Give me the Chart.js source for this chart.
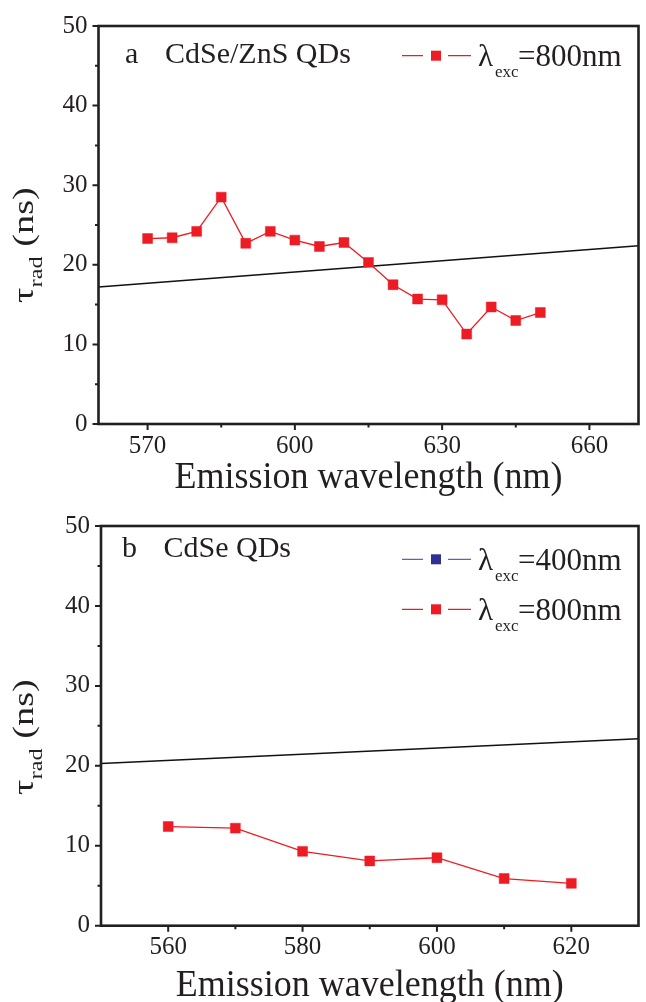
<!DOCTYPE html>
<html>
<head>
<meta charset="utf-8">
<script src="https://cdn.jsdelivr.net/npm/chart.js@4.4.1/dist/chart.umd.min.js"></script>
<style>
  body { margin: 0; background: #fff; width: 646px; height: 1002px; overflow: hidden; }
  .panel { position: absolute; left: 0; width: 646px; }
  #boxA { top: 0; height: 500px; }
  #boxB { top: 500px; height: 502px; }
</style>
</head>
<body>
<div class="panel" id="boxA"><canvas id="chartA"></canvas></div>
<div class="panel" id="boxB"><canvas id="chartB"></canvas></div>
<script>
// ---- panel a : CdSe/ZnS QDs, 800 nm excitation
const wlA = [570, 575, 580, 585, 590, 595, 600, 605, 610, 615, 620, 625, 630, 635, 640, 645, 650];
const tauA800 = [23.3, 23.4, 24.2, 28.5, 22.7, 24.2, 23.1, 22.3, 22.8, 20.3, 17.5, 15.7, 15.6, 11.3, 14.7, 13.0, 14.0];
const refWlA = [560, 670];
const refTauA = [17.2, 22.4];
const xTicksA = [570, 600, 630, 660];
const xMinorA = [585, 615, 645];

// ---- panel b : CdSe QDs
const wlB = [560, 570, 580, 590, 600, 610, 620];
const tauB800 = [12.4, 12.2, 9.3, 8.1, 8.5, 5.9, 5.3];
const tauB400 = [];   // only in the legend, no points shown
const refWlB = [550, 630];
const refTauB = [20.3, 23.4];
const xTicksB = [560, 580, 600, 620];
const xMinorB = [570, 590, 610];

const yTicks = [0, 10, 20, 30, 40, 50];
const yMinor = [5, 15, 25, 35, 45];

const RED = '#ED1C24';
const BLUE = '#2E3192';
const BLUE_LINE = '#5B63B5';
const INK = '#231F20';
const FONT = '"Liberation Serif", "Times New Roman", serif';

function pts(xs, ys) {
  return xs.map((x, i) => ({ x: x, y: ys[i] }));
}

function txt(ctx, s, x, y, size, align, sx, sy) {
  ctx.save();
  ctx.translate(x, y);
  ctx.scale(sx || 1, sy || 1);
  ctx.font = size + 'px ' + FONT;
  ctx.textAlign = align || 'left';
  ctx.textBaseline = 'alphabetic';
  ctx.fillStyle = INK;
  ctx.fillText(s, 0, 0);
  ctx.restore();
}

function legendRow(ctx, y, fill, line, label) {
  ctx.save();
  ctx.strokeStyle = line;
  ctx.lineWidth = 1.3;
  ctx.beginPath();
  ctx.moveTo(402, y); ctx.lineTo(423, y);
  ctx.moveTo(448, y); ctx.lineTo(471, y);
  ctx.stroke();
  ctx.fillStyle = fill;
  ctx.fillRect(431, y - 5, 10, 10);
  ctx.restore();
  txt(ctx, 'λ', 478, y + 10.5, 31);
  txt(ctx, 'exc', 495, y + 21.5, 17);
  txt(ctx, label, 518, y + 10.5, 31);
}

function makeChart(id, cfg) {
  // frame, ticks, titles and labels drawn on top of the chart
  const deco = {
    id: 'deco',
    afterDraw(chart) {
      const ctx = chart.ctx;
      const a = chart.chartArea;
      const xs = chart.scales.x, ys = chart.scales.y;
      ctx.save();
      ctx.strokeStyle = INK;
      ctx.lineWidth = 2;
      ctx.beginPath();
      yTicks.forEach(v => { const p = ys.getPixelForValue(v); ctx.moveTo(a.left - 6, p); ctx.lineTo(a.left, p); });
      yMinor.forEach(v => { const p = ys.getPixelForValue(v); ctx.moveTo(a.left - 3.5, p); ctx.lineTo(a.left, p); });
      cfg.xTicks.forEach(v => { const p = xs.getPixelForValue(v); ctx.moveTo(p, a.bottom); ctx.lineTo(p, a.bottom + 6); });
      cfg.xMinor.forEach(v => { const p = xs.getPixelForValue(v); ctx.moveTo(p, a.bottom); ctx.lineTo(p, a.bottom + 3.5); });
      ctx.stroke();
      ctx.lineWidth = 2.6;
      ctx.strokeRect(a.left, a.top, a.right - a.left, a.bottom - a.top);
      ctx.restore();

      // x title
      txt(ctx, 'Emission wavelength (nm)', (a.left + a.right) / 2, cfg.xTitleY, 36, 'center', 1, 1.08);

      // y title: tau_rad (ns), rotated
      ctx.save();
      ctx.translate(33, cfg.yTitleY);
      ctx.rotate(-Math.PI / 2);
      ctx.scale(1.28, 1);
      ctx.fillStyle = INK;
      ctx.textBaseline = 'alphabetic';
      ctx.font = '30px ' + FONT;
      const wTau = ctx.measureText('τ').width;
      const wNs = ctx.measureText(' (ns)').width;
      ctx.font = '19px ' + FONT;
      const wRad = ctx.measureText('rad').width;
      let x0 = -(wTau + wRad + wNs) / 2;
      ctx.font = '30px ' + FONT;
      ctx.fillText('τ', x0, 0);
      ctx.font = '19px ' + FONT;
      ctx.fillText('rad', x0 + wTau, 9);
      ctx.font = '30px ' + FONT;
      ctx.fillText(' (ns)', x0 + wTau + wRad, 0);
      ctx.restore();

      // panel label and sample name
      txt(ctx, cfg.tag, cfg.tagX, cfg.tagY, 30);
      txt(ctx, cfg.name, cfg.nameX, cfg.tagY, 30);

      // legend
      cfg.legend.forEach(r => legendRow(ctx, r.y, r.fill, r.line, r.label));
    }
  };

  return new Chart(document.getElementById(id), {
    type: 'scatter',
    data: { datasets: cfg.datasets },
    options: {
      responsive: true,
      maintainAspectRatio: false,
      animation: false,
      layout: { padding: { top: cfg.top, right: cfg.right, left: 0, bottom: 0 } },
      plugins: { legend: { display: false }, tooltip: { enabled: false } },
      scales: {
        x: {
          type: 'linear',
          min: cfg.xMin,
          max: cfg.xMax,
          afterBuildTicks: s => { s.ticks = cfg.xTicks.map(v => ({ value: v })); },
          afterFit: s => { s.height = cfg.xAxisH; },
          grid: { display: false, drawTicks: false },
          border: { display: false },
          ticks: { color: INK, font: { family: FONT, size: 25 }, padding: 7, maxRotation: 0, autoSkip: false }
        },
        y: {
          type: 'linear',
          min: 0,
          max: 50,
          afterBuildTicks: s => { s.ticks = yTicks.map(v => ({ value: v })); },
          afterFit: s => { s.width = cfg.yAxisW; },
          grid: { display: false, drawTicks: false },
          border: { display: false },
          ticks: { color: INK, font: { family: FONT, size: 25 }, padding: 11 }
        }
      }
    },
    plugins: [deco]
  });
}

function redSeries(xs, ys) {
  return {
    data: pts(xs, ys), showLine: true, borderColor: RED, borderWidth: 1.3,
    pointStyle: 'rect', pointRadius: 7, pointBackgroundColor: RED, pointBorderColor: RED, pointBorderWidth: 0.5
  };
}

function refLine(xs, ys) {
  return { data: pts(xs, ys), showLine: true, borderColor: '#111', borderWidth: 1.5, pointRadius: 0 };
}

makeChart('chartA', {
  top: 20, right: 5, xAxisH: 76, yAxisW: 98.5,
  xMin: 560, xMax: 670, xTicks: xTicksA, xMinor: xMinorA,
  xTitleY: 488, yTitleY: 245,
  tag: 'a', tagX: 125, name: 'CdSe/ZnS QDs', nameX: 165, tagY: 63,
  legend: [{ y: 55.7, fill: RED, line: RED, label: '=800nm' }],
  datasets: [redSeries(wlA, tauA800), refLine(refWlA, refTauA)]
});

makeChart('chartB', {
  top: 22.7, right: 1.5, xAxisH: 76.3, yAxisW: 101,
  xMin: 550, xMax: 630, xTicks: xTicksB, xMinor: xMinorB,
  xTitleY: 496, yTitleY: 237,
  tag: 'b', tagX: 122, name: 'CdSe QDs', nameX: 163.5, tagY: 57,
  legend: [
    { y: 59.3, fill: BLUE, line: BLUE_LINE, label: '=400nm' },
    { y: 109.3, fill: RED, line: RED, label: '=800nm' }
  ],
  datasets: [
    redSeries(wlB, tauB800),
    Object.assign(redSeries(wlB, tauB400), { data: [], borderColor: BLUE, pointBackgroundColor: BLUE }),
    refLine(refWlB, refTauB)
  ]
});
</script>
</body>
</html>
